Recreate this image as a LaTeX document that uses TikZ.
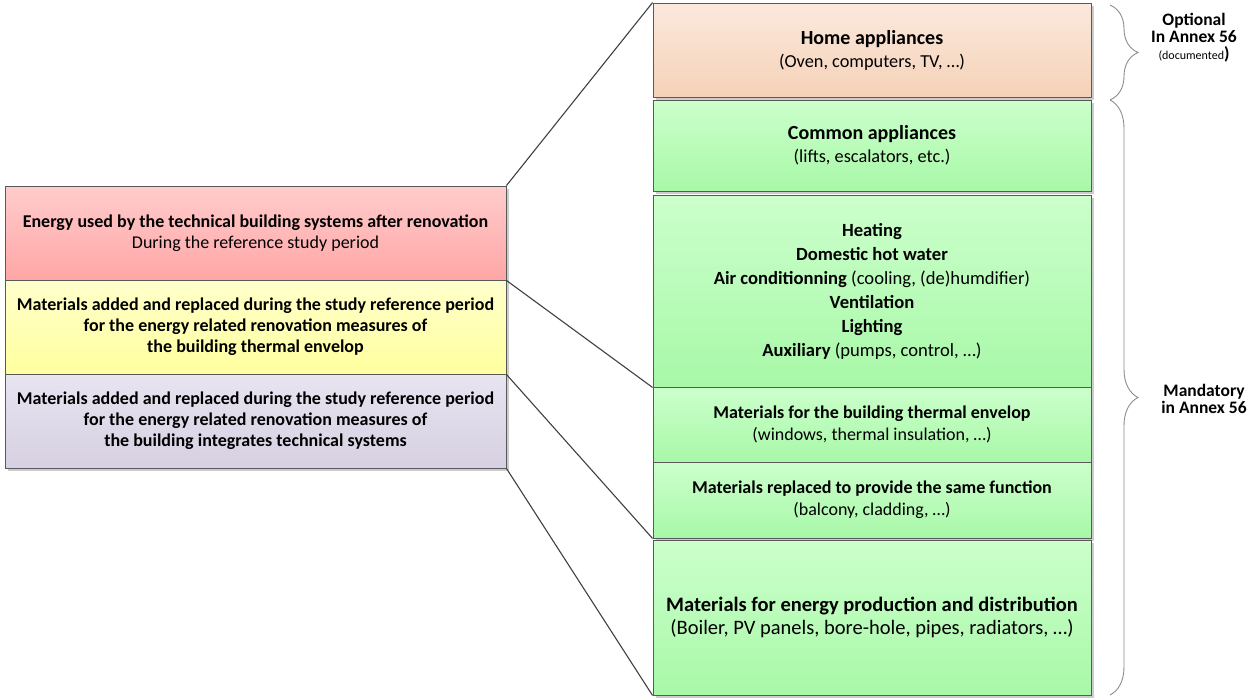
\documentclass[tikz,border=0pt]{standalone}
\usepackage{fontspec}
\setmainfont{Carlito}
\usetikzlibrary{calc, shadows, decorations.pathreplacing}

\definecolor{redtop}{HTML}{FFCCCC}
\definecolor{redbot}{HTML}{FFA6A6}
\definecolor{yeltop}{HTML}{FFFFCC}
\definecolor{yelbot}{HTML}{FFFF9E}
\definecolor{viotop}{HTML}{E8E4F0}
\definecolor{viobot}{HTML}{D6D0E2}
\definecolor{hometop}{HTML}{FBE9DD}
\definecolor{homebot}{HTML}{F5D2B8}
\definecolor{greentop}{HTML}{CCFFCC}
\definecolor{greenbot}{HTML}{A8F8A8}

\begin{document}
\begin{tikzpicture}[x=1pt, y=-1pt,
    box/.style={draw=black!65, line width=0.9pt, rectangle, inner sep=0pt, align=center,
        drop shadow={shadow xshift=2.5pt, shadow yshift=-2.5pt, fill=black!40, opacity=0.5}},
    leftbox/.style={box, minimum width=501pt, minimum height=94pt, font=\fontsize{18}{21}\selectfont},
    greenbox/.style={box, minimum width=438pt, top color=greentop, bottom color=greenbot},
    link/.style={draw=black!75, line width=1.1pt},
    bracket/.style={draw=black!45, line width=0.9pt, decorate, decoration={brace, amplitude=28pt}}
]
    \useasboundingbox (0, 0) rectangle (1248, 699);

    % left column
    \node[leftbox, top color=redtop, bottom color=redbot] (energy) at (255.5, 233)
        {\textbf{Energy used by the technical building systems after renovation}\\During the reference study period};
    \node[leftbox, top color=yeltop, bottom color=yelbot] (envelop) at (255.5, 327)
        {\textbf{Materials added and replaced during the study reference period}\\\textbf{for the energy related renovation measures of}\\\textbf{the building thermal envelop}};
    \node[leftbox, top color=viotop, bottom color=viobot] (systems) at (255.5, 421)
        {\textbf{Materials added and replaced during the study reference period}\\\textbf{for the energy related renovation measures of}\\\textbf{the building integrates technical systems}};

    % right column
    \node[box, minimum width=438pt, minimum height=94pt, top color=hometop, bottom color=homebot,
        font=\fontsize{18.3}{23}\selectfont] (home) at (872, 50)
        {{\fontsize{20}{23}\selectfont\textbf{Home appliances}}\\(Oven, computers, TV, …)};
    \node[greenbox, minimum height=91pt, font=\fontsize{18.3}{23}\selectfont] (common) at (872, 145.5)
        {{\fontsize{20}{23}\selectfont\textbf{Common appliances}}\\(lifts, escalators, etc.)};
    \node[greenbox, minimum height=192pt, font=\fontsize{18.6}{24}\selectfont] (hvac) at (872, 291)
        {\textbf{Heating}\\\textbf{Domestic hot water}\\\textbf{Air conditionning} (cooling, (de)humdifier)\\\textbf{Ventilation}\\\textbf{Lighting}\\\textbf{Auxiliary} (pumps, control, …)};
    \node[greenbox, minimum height=75pt, font=\fontsize{18}{22}\selectfont] (thermal) at (872, 424.5)
        {\textbf{Materials for the building thermal envelop}\\(windows, thermal insulation, …)};
    \node[greenbox, minimum height=76pt, font=\fontsize{18}{22}\selectfont] (replaced) at (872, 500)
        {\textbf{Materials replaced to provide the same function}\\(balcony, cladding, …)};
    \node[greenbox, minimum height=155pt, font=\fontsize{20.5}{23}\selectfont] (production) at (872, 617.5)
        {\textbf{Materials for energy production and distribution}\\(Boiler, PV panels, bore-hole, pipes, radiators, …)};

    % zoom lines
    \draw[link] (energy.north east) -- (home.north west);
    \draw[link] (energy.south east) -- (hvac.south west);
    \draw[link] (envelop.south east) -- (replaced.south west);
    \draw[link] (systems.south east) -- (production.south west);

    % braces and labels
    \coordinate (opt top) at (1110, 5);
    \coordinate (opt bot) at (1110, 100);
    \coordinate (man bot) at (1110, 695);
    \draw[bracket] (opt top) -- (opt bot);
    \draw[bracket] (opt bot) -- (man bot);

    \node[align=center, font=\fontsize{17.5}{17}\selectfont\bfseries] (optional) at (1194, 38)
        {Optional\\In Annex 56\\{\fontsize{12}{12}\selectfont\mdseries (documented}{\fontsize{17.5}{14}\selectfont)}};
    \node[align=center, font=\fontsize{17.5}{17}\selectfont\bfseries] (mandatory) at (1204, 399)
        {Mandatory\\in Annex 56};
\end{tikzpicture}
\end{document}
